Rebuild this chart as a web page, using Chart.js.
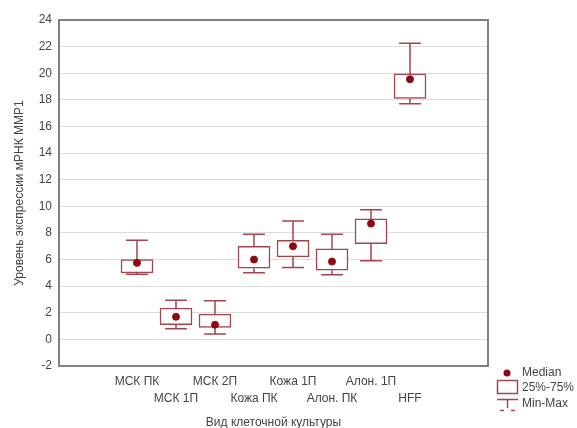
<!DOCTYPE html>
<html>
<head>
<meta charset="utf-8">
<script src="https://cdn.jsdelivr.net/npm/chart.js@4"></script>
<style>
html, body { margin: 0; padding: 0; background: #fff; }
#wrap { width: 577px; height: 428px; }
</style>
</head>
<body>
<div id="wrap"><canvas id="chart" width="577" height="428"></canvas></div>
<script>
var categories = ['МСК ПК', 'МСК 1П', 'МСК 2П', 'Кожа ПК', 'Кожа 1П', 'Алон. ПК', 'Алон. 1П', 'HFF'];
var minVals = [4.9, 0.8, 0.4, 5.0, 5.4, 4.85, 5.9, 17.7];
var q1Vals = [5.0, 1.1, 0.9, 5.35, 6.2, 5.2, 7.2, 18.1];
var medVals = [5.75, 1.7, 1.1, 6.0, 7.0, 5.85, 8.7, 19.55];
var q3Vals = [6.0, 2.35, 1.9, 7.0, 7.45, 6.8, 9.05, 19.95];
var maxVals = [7.45, 2.95, 2.9, 7.9, 8.9, 7.9, 9.75, 22.25];
var yTicks = [-2, 0, 2, 4, 6, 8, 10, 12, 14, 16, 18, 20, 22, 24];

var boxColor = '#a4444e';
var medColor = '#8b0a14';
var font = 'Liberation Sans, Arial, sans-serif';

// category i sits at x = i + 2 on an 11 unit axis
function xOf(i) { return i + 2; }

var boxData = categories.map(function (c, i) { return { x: xOf(i), y: [q1Vals[i], q3Vals[i]] }; });
var medData = categories.map(function (c, i) { return { x: xOf(i), y: medVals[i] }; });
var whiskerData = [];
var capData = [];
categories.forEach(function (c, i) {
    var x = xOf(i);
    whiskerData.push({ x: x, y: q3Vals[i] }, { x: x, y: maxVals[i] }, { x: x, y: null });
    whiskerData.push({ x: x, y: minVals[i] }, { x: x, y: q1Vals[i] }, { x: x, y: null });
    capData.push({ x: x - 0.28, y: maxVals[i] }, { x: x + 0.28, y: maxVals[i] }, { x: x, y: null });
    capData.push({ x: x - 0.28, y: minVals[i] }, { x: x + 0.28, y: minVals[i] }, { x: x, y: null });
});

var framePlugin = {
    id: 'frame',
    afterDraw: function (chart) {
        var ctx = chart.ctx;
        var a = chart.chartArea;
        ctx.save();
        ctx.strokeStyle = '#808080';
        ctx.lineWidth = 2;
        ctx.strokeRect(a.left, a.top, a.right - a.left, a.bottom - a.top);

        // legend
        ctx.fillStyle = medColor;
        ctx.beginPath();
        ctx.arc(507, 373, 3.5, 0, Math.PI * 2);
        ctx.fill();
        ctx.strokeStyle = boxColor;
        ctx.lineWidth = 1.5;
        ctx.strokeRect(497.5, 380.5, 20, 13);
        ctx.beginPath();
        ctx.moveTo(497, 399.5); ctx.lineTo(518, 399.5);
        ctx.moveTo(507.5, 399.5); ctx.lineTo(507.5, 408);
        ctx.moveTo(500, 410.5); ctx.lineTo(504, 410.5);
        ctx.moveTo(511, 410.5); ctx.lineTo(515, 410.5);
        ctx.stroke();
        ctx.fillStyle = '#444';
        ctx.font = '12px ' + font;
        ctx.textBaseline = 'middle';
        ctx.textAlign = 'left';
        ctx.fillText('Median', 522, 373);
        ctx.fillText('25%-75%', 522, 388);
        ctx.fillText('Min-Max', 522, 404);
        ctx.restore();
    }
};

new Chart(document.getElementById('chart'), {
    data: {
        datasets: [
            {
                type: 'scatter',
                label: 'whiskers',
                data: whiskerData,
                showLine: true,
                spanGaps: false,
                borderColor: boxColor,
                borderWidth: 1.5,
                pointRadius: 0,
                order: 3
            },
            {
                type: 'scatter',
                label: 'caps',
                data: capData,
                showLine: true,
                spanGaps: false,
                borderColor: boxColor,
                borderWidth: 1.5,
                pointRadius: 0,
                order: 3
            },
            {
                type: 'bar',
                label: '25%-75%',
                data: boxData,
                backgroundColor: '#ffffff',
                borderColor: boxColor,
                borderWidth: 1.5,
                borderSkipped: false,
                barThickness: 32,
                order: 2
            },
            {
                type: 'scatter',
                label: 'Median',
                data: medData,
                backgroundColor: medColor,
                borderColor: medColor,
                pointRadius: 3.5,
                order: 1
            }
        ]
    },
    options: {
        responsive: false,
        animation: false,
        layout: { padding: { top: 20, right: 89, left: 0, bottom: 0 } },
        plugins: { legend: { display: false }, tooltip: { enabled: false } },
        scales: {
            x: {
                type: 'linear',
                min: 0,
                max: 11,
                offset: false,
                grid: { display: false },
                border: { display: false },
                afterBuildTicks: function (scale) {
                    scale.ticks = categories.map(function (c, i) { return { value: xOf(i) }; });
                },
                afterFit: function (scale) { scale.height = 62; },
                ticks: {
                    autoSkip: false,
                    maxRotation: 0,
                    padding: 0,
                    color: '#444',
                    font: { family: font, size: 12, lineHeight: 1.35 },
                    callback: function (v) {
                        var i = Math.round(v) - 2;
                        if (i < 0 || i >= categories.length) return '';
                        return i % 2 === 0 ? [categories[i], ''] : ['', categories[i]];
                    }
                },
                title: {
                    display: true,
                    text: 'Вид клеточной культуры',
                    color: '#444',
                    font: { family: font, size: 12 },
                    padding: { top: 0, bottom: -2 }
                }
            },
            y: {
                min: -2,
                max: 24,
                afterBuildTicks: function (scale) {
                    scale.ticks = yTicks.map(function (v) { return { value: v }; });
                },
                afterFit: function (scale) { scale.width = 59; },
                grid: { color: '#dcdcdc', lineWidth: 1, drawTicks: false },
                border: { display: false },
                ticks: {
                    padding: 7,
                    color: '#444',
                    font: { family: font, size: 12 }
                },
                title: {
                    display: true,
                    text: 'Уровень экспрессии мРНК ММР1',
                    color: '#444',
                    font: { family: font, size: 12 },
                    padding: { top: 12, bottom: 0 }
                }
            }
        }
    },
    plugins: [framePlugin]
});
</script>
</body>
</html>
